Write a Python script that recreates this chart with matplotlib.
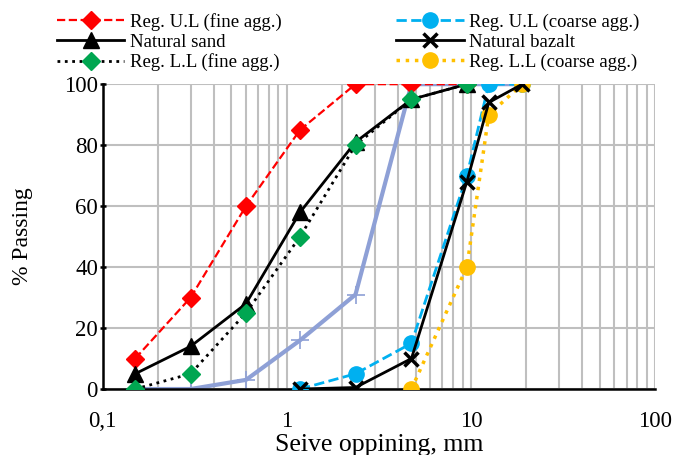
import matplotlib.pyplot as plt
from matplotlib.ticker import FixedLocator, LogLocator, NullFormatter

plt.rcParams['font.family'] = ['Liberation Serif', 'DejaVu Serif']

# sieve sizes (mm)
fine_sieves = [0.15, 0.3, 0.6, 1.18, 2.36, 4.75, 9.5]
coarse_sieves = [1.18, 2.36, 4.75, 9.5, 12.5, 19]
coarse_ll_sieves = [4.75, 9.5, 12.5, 19]
mix_sieves = [0.15, 0.3, 0.6, 1.18, 2.36, 4.75, 9.5, 12.5, 19]

# % passing
reg_ul_fine = [10, 30, 60, 85, 100, 100, 100]
natural_sand = [5, 14, 28, 58, 81, 95, 100]
reg_ll_fine = [0, 5, 25, 50, 80, 95, 100]
reg_ul_coarse = [0, 5, 15, 70, 100, 100]
natural_bazalt = [0, 0.5, 10, 68, 94, 100]
reg_ll_coarse = [0, 40, 90, 100]
mix_curve = [0, 0, 3, 16, 31, 100, 100, 100, 100]

fig = plt.figure(figsize=(6.76, 4.55), dpi=100)
ax = fig.add_axes([0.152, 0.145, 0.817, 0.67])

ax.plot(mix_sieves, mix_curve, color='#8EA0D6', lw=3, marker='+', ms=13,
        mew=1.2, zorder=2)
ax.plot(fine_sieves, reg_ul_fine, color='red', ls='--', lw=1.6, marker='D',
        ms=9, label='Reg. U.L (fine agg.)', zorder=3)
ax.plot(fine_sieves, natural_sand, color='black', lw=2, marker='^', ms=11,
        label='Natural sand', zorder=3)
ax.plot(fine_sieves, reg_ll_fine, color='black', ls=':', lw=2, marker='D',
        ms=9, mfc='#00A651', mec='#00A651', label='Reg. L.L (fine agg.)', zorder=4)
ax.plot(coarse_sieves, reg_ul_coarse, color='#00B0F0', ls='--', lw=2, marker='o',
        ms=11, label='Reg. U.L (coarse agg.)', zorder=3)
ax.plot(coarse_sieves, natural_bazalt, color='black', lw=2, marker='x', ms=10,
        mew=2.5, label='Natural bazalt', zorder=4)
ax.plot(coarse_ll_sieves, reg_ll_coarse, color='#FFC000', ls=':', lw=2.5,
        marker='o', ms=11, label='Reg. L.L (coarse agg.)', zorder=3)

ax.set_xscale('log')
ax.set_xlim(0.1, 100)
ax.set_ylim(0, 100)
ax.xaxis.set_major_locator(FixedLocator([0.1, 1, 10, 100]))
ax.xaxis.set_minor_locator(LogLocator(base=10, subs=range(2, 10)))
ax.xaxis.set_minor_formatter(NullFormatter())
ax.set_xticklabels(['0,1', '1', '10', '100'])
ax.set_yticks([0, 20, 40, 60, 80, 100])

ax.grid(True, which='both', color='#BFBFBF', lw=1.5)
ax.set_axisbelow(True)
for side in ['top', 'right']:
    ax.spines[side].set_visible(False)
for side in ['left', 'bottom']:
    ax.spines[side].set_linewidth(1.8)
ax.tick_params(axis='both', which='major', labelsize=16.5, length=5, width=1.8,
               direction='inout')
ax.tick_params(axis='y', pad=1)
ax.tick_params(axis='x', which='both', length=0, pad=16)

ax.set_xlabel('Seive oppining, mm', fontsize=18.5, labelpad=1)
ax.set_ylabel('% Passing', fontsize=17, labelpad=22)

fig.legend(loc='upper left', bbox_to_anchor=(0.084, 0.972), ncol=2, frameon=False,
           fontsize=13.5, columnspacing=6.1, handlelength=3.6, handletextpad=0.3,
           labelspacing=0.15, borderpad=0, borderaxespad=0)

fig.savefig('out.png', dpi=100)
